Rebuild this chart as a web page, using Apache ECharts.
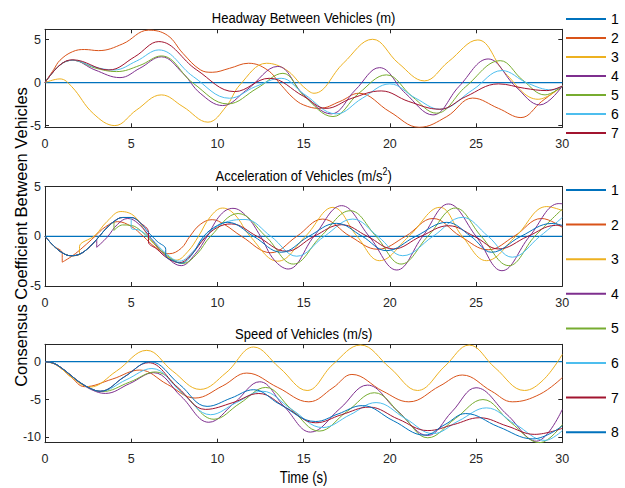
<!DOCTYPE html>
<html><head><meta charset="utf-8">
<script src="https://cdn.jsdelivr.net/npm/echarts@6/dist/echarts.min.js"></script>
<style>html,body{margin:0;padding:0;background:#fff}#c{width:625px;height:488px}</style>
</head><body><div id="c"></div>
<script>
// ---- labels / ticks ----
const seriesNames = ['1','2','3','4','5','6','7','8'];
const xTicks = [0,5,10,15,20,25,30];
const headwayTicks = [-5,0,5];
const accelTicks = [-5,0,5];
const speedTicks = [-10,-5,0];
const plotTitles = ['Headway Between Vehicles (m)', 'Acceleration of Vehicles (m/s{sup|2})', 'Speed of Vehicles (m/s)'];
const xLabel = 'Time (s)';
const yLabel = 'Consensus Coefficient Between Vehicles';

// ---- Headway (m): [time, value] ----
const head1 = [[0,0],[30,0]];
const head2 = [[0,0],[0.5,1.5],[0.87,2.6],[1.6,3.6],[2.3,3.85],[3.1,3.72],[4.5,4.5],[6.0,6.1],[7.1,5.5],[8.0,3.4],[9.0,1.5],[9.7,1.2],[10.7,1.66],[11.8,2.25],[12.9,1.47],[13.7,-0.3],[14.4,-1.8],[15.0,-2.6],[15.9,-3.0],[17.1,-2.2],[18.2,-1.24],[20.0,-3.4],[21.7,-5.2],[23.3,-3.95],[24.8,-1.8],[26.3,-3.0],[27.6,-4.07],[28.8,-2.2],[30,-0.4]];
const head3 = [[0,0],[0.87,0.43],[1.55,-0.47],[2.8,-3.6],[4.05,-5.0],[5.3,-3.2],[6.75,-1.43],[8.0,-2.8],[9.45,-4.6],[10.5,-2.8],[11.3,-0.27],[12.85,2.25],[14.0,1.47],[15.0,-0.5],[15.6,-1.24],[17.3,2.25],[19.0,5.04],[20.5,2.25],[22.0,0.2],[23.4,2.44],[25.1,4.96],[26.7,1.08],[28.6,-1.94],[30,-0.4]];
const head4 = [[0,0],[0.87,2.05],[1.6,2.6],[2.9,1.47],[4.35,0.58],[5.5,1.67],[6.75,3.0],[8.0,1.08],[9.0,-1.24],[10.3,-2.67],[11.7,-0.85],[13.5,1.88],[15.0,-1.4],[16.6,-3.64],[18.0,-0.85],[19.4,1.74],[20.9,-1.24],[22.5,-3.76],[24.0,-0.47],[25.7,2.75],[27.3,-0.47],[28.7,-2.6],[30,-0.4]];
const head5 = [[0,0],[0.87,2.05],[1.6,2.6],[2.9,1.7],[4.15,1.28],[5.5,2.0],[6.75,3.1],[8.6,-0.08],[10.6,-2.48],[12.3,-0.66],[13.8,1.08],[15.0,-1.5],[16.7,-3.95],[18.2,-1.24],[19.8,0.9],[21.3,-1.63],[22.7,-3.56],[24.4,-0.47],[26.4,2.55],[27.7,0.3],[29.0,-1.43],[30,-0.4]];
const head6 = [[0,0],[0.87,2.05],[1.6,2.6],[2.9,1.8],[4.0,1.47],[5.3,2.5],[6.6,3.8],[8.6,0.7],[10.7,-1.82],[12.2,-0.47],[13.7,0.5],[15.0,-1.3],[16.9,-3.64],[18.4,-1.82],[20.0,-0.15],[21.5,-1.82],[22.9,-3.1],[24.8,-0.85],[26.5,1.4],[28.0,-0.08],[29.4,-0.85],[30,-0.4]];
const head7 = [[0,0],[0.87,2.05],[1.6,2.65],[3.7,1.47],[5.2,3.0],[6.6,4.77],[8.8,1.47],[11.0,-1.05],[13.0,0.5],[15.0,-1.6],[16.3,-3.0],[17.8,-1.82],[19.5,-0.97],[21.1,-2.2],[22.9,-3.1],[24.4,-1.63],[26.3,-0.15],[27.8,-0.66],[29.1,-0.93],[30,-0.4]];

// ---- Acceleration (m/s^2) ----
const acc1 = [[0,0],[30,0]];
const acc2 = [[0,0],[0.5,-0.95],[1,-1.7],[1,-2.6],[1.6,-1.95],[2.2,-1.1],[2.9,0],[3.5,0.95],[4.2,1.48],[5.0,1.0],[5.7,0],[6.4,-1.1],[7.2,-1.75],[7.9,-1.2],[8.4,0],[9.0,1.2],[9.7,1.68],[10.4,1.2],[11.4,0],[13.1,-1.65],[14.6,0],[16.1,1.74],[17.7,0],[19.3,-1.3],[20.9,0],[22.5,1.8],[24.1,0],[25.7,-1.35],[27.2,0],[28.8,1.8],[30,0.9]];
const acc3 = [[0,0],[0.5,-0.95],[1,-1.65],[1.5,-1.95],[2,-1.8],[2,-1.05],[2.9,0.1],[3.6,1.5],[4.4,2.5],[5.2,2.0],[6.0,0],[6.8,-1.6],[7.6,-2.4],[8.3,-1.5],[8.9,0],[9.6,2.0],[10.3,2.85],[11.0,2.2],[11.9,0],[13.5,-2.5],[15.1,0],[16.7,2.92],[18.1,0],[19.4,-2.45],[21.1,0],[22.9,2.92],[24.2,0],[25.6,-2.45],[27.3,0],[29.1,3.0],[30,2.6]];
const acc4 = [[0,0],[0.5,-0.95],[1,-1.65],[1.5,-1.95],[2,-1.8],[2.5,-1.2],[3,-0.3],[3,-1.1],[3.6,-0.1],[4.2,1.2],[4.8,1.8],[5.4,1.3],[6.2,-0.3],[7.0,-2.0],[7.9,-2.95],[8.7,-1.8],[9.4,0],[10.2,2.2],[10.9,2.82],[11.7,2.0],[12.5,0],[13.3,-2.4],[14.1,-3.29],[15.6,0],[17.2,3.09],[18.8,0],[20.4,-3.39],[21.9,0],[23.4,3.26],[25.0,0],[26.5,-3.46],[28.1,0],[29.8,3.3],[30,3.28]];
const acc5 = [[0,0],[0.5,-0.95],[1,-1.65],[1.5,-1.95],[2,-1.8],[2.5,-1.2],[3,-0.3],[3.5,0.7],[4,1.5],[4,0.6],[4.5,1.15],[5.0,1.1],[5.6,0.5],[6.3,-0.7],[7.2,-2.1],[8.0,-2.72],[8.8,-1.8],[9.6,0],[11.2,2.3],[12.8,0],[14.4,-2.79],[16.0,0],[17.7,2.58],[19.2,0],[20.65,-2.79],[22.2,0],[23.8,2.85],[25.3,0],[26.9,-2.95],[28.4,0],[30,2.75]];
const acc6 = [[0,0],[0.5,-0.95],[1,-1.65],[1.5,-1.95],[2,-1.8],[2.5,-1.2],[3,-0.3],[3.5,0.7],[4,1.5],[4.5,1.9],[5,1.85],[5,0.85],[5.5,0.6],[6.2,-0.3],[7.0,-1.7],[7.8,-2.5],[8.6,-1.5],[9.3,0],[10.3,1.3],[11.6,1.7],[13.1,0],[14.6,-2.0],[16.2,0],[17.85,1.74],[19.3,0],[20.75,-1.95],[22.5,0],[24.2,1.91],[25.7,0],[27.1,-2.1],[28.7,0],[30,1.9]];
const acc7 = [[0,0],[0.5,-0.95],[1,-1.65],[1.5,-1.95],[2,-1.8],[2.5,-1.2],[3,-0.3],[3.5,0.7],[4,1.5],[4.5,1.9],[5,1.9],[5.5,1.4],[6,0.4],[6,-0.55],[6.5,-1.3],[7.1,-2.2],[7.8,-2.65],[8.5,-1.8],[9.3,-0.1],[10.0,0.9],[10.8,1.25],[12.3,0],[14.0,-1.5],[15.6,0],[17.2,1.17],[18.7,0],[20.2,-1.27],[21.8,0],[23.4,1.07],[24.9,0],[26.3,-1.27],[28.0,0],[29.6,1.1],[30,1.05]];
const acc8 = [[0,0],[0.5,-0.95],[1,-1.65],[1.5,-1.95],[2,-1.8],[2.5,-1.2],[3,-0.3],[3.5,0.7],[4,1.5],[4.5,1.9],[5,1.9],[5.5,1.4],[6,0.4],[6.5,-0.5],[7,-1.3],[7,-1.9],[7.5,-2.5],[7.9,-2.7],[8.5,-1.9],[9.2,0],[10.0,1.1],[10.6,1.41],[12.1,0],[13.7,-1.6],[15.3,0],[16.9,1.31],[18.4,0],[19.8,-1.44],[21.5,0],[23.3,1.41],[24.7,0],[25.9,-1.6],[27.6,0],[29.4,1.3],[30,1.1]];

// ---- Speed (m/s) ----
const spd1 = [[0,0],[30,0]];
const spd2 = [[0,0],[0.5,-0.25],[1,-1.0],[1.5,-2.0],[2.3,-3.3],[3.9,-2.3],[5.5,-1.1],[7.1,-3.0],[8.7,-4.8],[10.3,-3.2],[11.7,-1.5],[13.5,-3.4],[15.3,-5.3],[16.7,-3.44],[17.8,-1.68],[19.6,-3.9],[21.1,-5.3],[22.9,-3.2],[24.2,-1.76],[25.9,-3.9],[27.1,-5.3],[28.7,-4.3],[30,-2.1]];
const spd3 = [[0,0],[0.5,-0.25],[1,-1.0],[1.5,-2.0],[2.6,-3.35],[4.15,-1.23],[5.9,1.5],[7.4,-1.23],[9.0,-3.66],[10.5,-1.46],[12.1,1.94],[13.6,-0.8],[15.2,-3.8],[16.7,-0.35],[18.3,2.2],[20.0,-0.8],[21.6,-3.8],[23.2,-0.57],[24.6,2.2],[26.1,-0.8],[27.8,-3.8],[28.9,-2.4],[30,0.97]];
const spd4 = [[0,0],[0.5,-0.2],[1,-0.9],[1.5,-1.8],[2,-2.7],[2.7,-3.7],[3.5,-4.19],[4.9,-2.9],[6.3,-1.45],[7.9,-4.6],[9.5,-8.0],[11.0,-5.4],[12.45,-2.65],[13.9,-6.0],[15.4,-9.3],[17.1,-6.2],[18.7,-3.09],[20.4,-6.4],[22.2,-9.74],[23.6,-6.6],[25.0,-3.44],[26.8,-7.0],[28.5,-10.5],[30,-6.3]];
const spd5 = [[0,0],[0.5,-0.2],[1,-0.9],[1.5,-1.8],[2,-2.7],[2.7,-3.6],[3.3,-3.95],[4.9,-2.7],[6.4,-1.35],[8.1,-4.4],[9.8,-7.6],[11.3,-5.5],[12.8,-3.4],[14.3,-6.3],[15.9,-9.17],[17.5,-6.6],[19.1,-4.1],[20.7,-7.1],[22.2,-10.05],[23.8,-7.5],[25.4,-5.0],[27.0,-8.0],[28.7,-10.7],[30,-8.3]];
const spd6 = [[0,0],[0.5,-0.2],[1,-0.9],[1.5,-1.8],[2,-2.7],[2.7,-3.6],[3.2,-3.9],[4.7,-2.4],[6.2,-0.9],[7.9,-4.0],[9.6,-7.0],[11.1,-5.4],[12.6,-3.9],[14.3,-6.3],[16.1,-8.7],[17.7,-7.0],[19.2,-5.4],[20.9,-7.5],[22.5,-9.5],[24.0,-7.8],[25.6,-6.1],[27.3,-8.3],[29.0,-10.4],[30,-9.1]];
const spd7 = [[0,0],[0.5,-0.2],[1,-0.9],[1.5,-1.8],[2,-2.7],[2.7,-3.6],[3.2,-3.9],[4.6,-2.0],[6.0,-0.13],[7.7,-3.4],[9.3,-6.3],[10.9,-5.4],[12.4,-4.2],[14.0,-6.1],[15.7,-8.07],[17.2,-7.0],[18.8,-6.0],[20.5,-7.6],[22.2,-9.1],[23.7,-8.3],[25.2,-7.4],[26.8,-8.5],[28.4,-9.6],[30,-8.8]];
const spd8 = [[0,0],[0.5,-0.2],[1,-0.9],[1.5,-1.8],[2,-2.7],[2.7,-3.6],[3.2,-3.9],[4.6,-2.0],[6.1,0.0],[7.8,-3.0],[9.4,-5.9],[10.8,-4.8],[12.1,-3.7],[13.6,-5.6],[15.7,-7.9],[17.0,-6.9],[18.4,-5.8],[20.2,-7.8],[22.0,-9.7],[23.2,-8.3],[24.4,-6.85],[26.3,-8.6],[28.3,-10.2],[30,-8.5]];

const headwayData = [head1, head2, head3, head4, head5, head6, head7];
const accelData = [acc1, acc2, acc3, acc4, acc5, acc6, acc7, acc8];
const speedData = [spd1, spd2, spd3, spd4, spd5, spd6, spd7, spd8];

// ---- styling ----
const colors = ['#0072BD','#D95319','#EDB120','#7E2F8E','#77AC30','#4DBEEE','#A2142F','#0072BD'];
const FONT = "'Liberation Sans', Arial, sans-serif";
const AX = '#262626';
const gridLeft = 45, gridRight = 62.7;
const grids = [
  {top: 29.3, height: 98, yMin: -5.2, yMax: 6.2, ticks: headwayTicks, data: headwayData},
  {top: 186.7, height: 99.3, yMin: -5, yMax: 5, ticks: accelTicks, data: accelData},
  {top: 344.3, height: 98.4, yMin: -10.7, yMax: 2.3, ticks: speedTicks, data: speedData}
];

const legendBase = {orient: 'vertical', left: 565, padding: 0, itemWidth: 40, itemHeight: 14,
  selectedMode: false, itemStyle: {opacity: 0, borderWidth: 0},
  textStyle: {fontFamily: FONT, fontSize: 14, color: '#000'}};

const option = {
  animation: false,
  backgroundColor: '#fff',
  grid: [], xAxis: [], yAxis: [], series: [],
  legend: [
    Object.assign({}, legendBase, {data: seriesNames.slice(0,7), top: 12, itemGap: 5.0}),
    Object.assign({}, legendBase, {data: seriesNames.slice(0,8), top: 183, itemGap: 20.6})
  ],
  graphic: []
};

const lineAx = {show: true, onZero: false, lineStyle: {color: AX, width: 1}};
grids.forEach((g, gi) => {
  option.grid.push({left: gridLeft, right: gridRight, top: g.top, height: g.height, containLabel: false, outerBoundsMode: 'none'});
  option.xAxis.push({
    type: 'value', gridIndex: gi, position: 'bottom', min: 0, max: 30, interval: 5,
    axisLine: lineAx, splitLine: {show: false},
    axisTick: {show: true, inside: true, length: 4, lineStyle: {color: AX}},
    axisLabel: {show: true, fontFamily: FONT, fontSize: 12.5, color: AX, margin: 10,
      customValues: xTicks}
  });
  option.xAxis.push({
    type: 'value', gridIndex: gi, position: 'top', min: 0, max: 30, interval: 5,
    axisLine: lineAx, splitLine: {show: false},
    axisTick: {show: true, inside: true, length: 4, lineStyle: {color: AX}},
    axisLabel: {show: false}
  });
  option.yAxis.push({
    type: 'value', gridIndex: gi, position: 'left', min: g.yMin, max: g.yMax,
    axisLine: lineAx, splitLine: {show: false},
    axisTick: {show: true, inside: true, length: 4, lineStyle: {color: AX}, customValues: g.ticks},
    axisLabel: {show: true, fontFamily: FONT, fontSize: 12.5, color: AX, margin: 4, customValues: g.ticks}
  });
  option.yAxis.push({
    type: 'value', gridIndex: gi, position: 'right', min: g.yMin, max: g.yMax,
    axisLine: lineAx, splitLine: {show: false},
    axisTick: {show: true, inside: true, length: 4, lineStyle: {color: AX}, customValues: g.ticks},
    axisLabel: {show: false}
  });
  g.data.forEach((d, si) => {
    option.series.push({
      type: 'line', name: seriesNames[si], xAxisIndex: gi * 2, yAxisIndex: gi * 2,
      data: d, showSymbol: false, symbol: 'none', smooth: 0.4,
      color: colors[si],
      lineStyle: {color: colors[si], width: si === 0 ? 1.3 : 1},
      emphasis: {disabled: true}, silent: true
    });
  });
});

const titleY = [17.5, 176, 334];
const centerX = gridLeft + (625 - gridLeft - gridRight) / 2;
plotTitles.forEach((t, i) => {
  option.graphic.push({
    type: 'text', x: centerX, y: titleY[i], scaleX: 0.84, silent: true,
    style: {text: t, fill: '#000', fontFamily: FONT, fontSize: 15.5,
      align: 'center', verticalAlign: 'middle',
      rich: {sup: {fontFamily: FONT, fontSize: 10.5, fill: '#000', verticalAlign: 'top', padding: [0,0,9,0]}}}
  });
});
option.graphic.push({
  type: 'text', x: centerX, y: 478, scaleX: 0.82, silent: true,
  style: {text: xLabel, fill: '#000', fontFamily: FONT, fontSize: 16, align: 'center', verticalAlign: 'middle'}
});
option.graphic.push({
  type: 'text', x: 21, y: 237, rotation: Math.PI / 2, silent: true,
  style: {text: yLabel, fill: '#000', fontFamily: FONT, fontSize: 16.5, align: 'center', verticalAlign: 'middle'}
});

const chart = echarts.init(document.getElementById('c'), null, {renderer: 'svg'});
chart.setOption(option);
</script>
</body></html>
